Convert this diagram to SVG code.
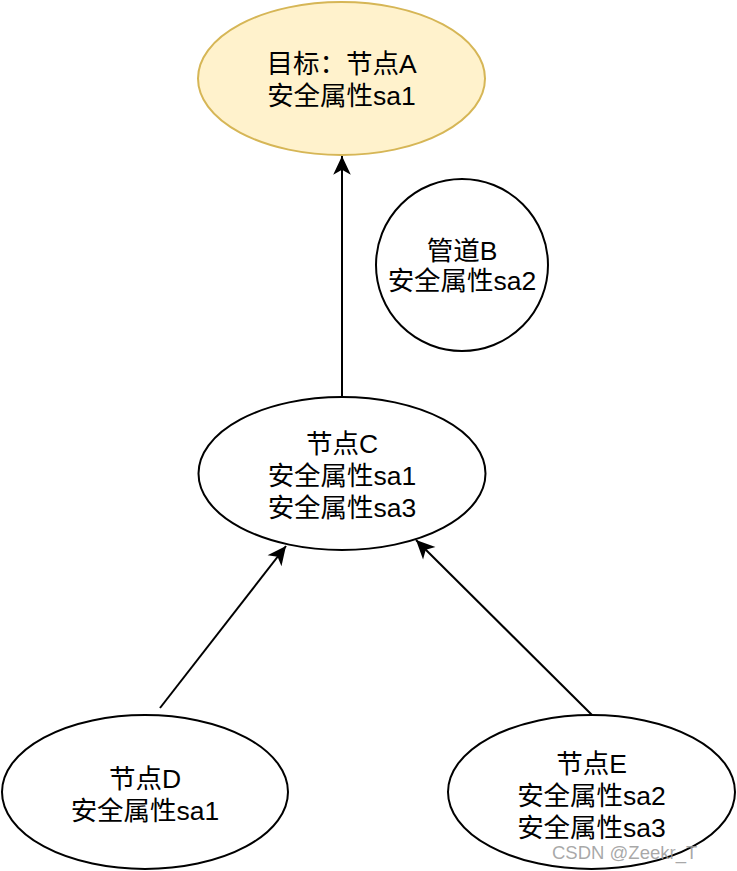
<svg xmlns="http://www.w3.org/2000/svg" width="737" height="871" viewBox="0 0 737 871">
<style>
.n{fill:#ffffff;stroke:#000000;stroke-width:2}
.t{font-family:"Liberation Sans","Noto Sans CJK SC",sans-serif;font-size:26.5px;fill:#000;text-anchor:middle}
.e{fill:none;stroke:#000;stroke-width:2}
</style>
<defs>
<marker id="ah" markerUnits="userSpaceOnUse" markerWidth="22" markerHeight="22" viewBox="-18 -9 20 18" refX="0" refY="0" orient="auto">
<path d="M0,0 L-17,-8 L-12.5,0 L-17,8 Z" fill="#000"/>
</marker>
</defs>
<rect width="737" height="871" fill="#fff"/>
<g id="connectors">
<line class="e" x1="342" y1="397" x2="342" y2="156" marker-end="url(#ah)"/>
<line class="e" x1="160" y1="708" x2="286" y2="546" marker-end="url(#ah)"/>
<line class="e" x1="592" y1="715" x2="416" y2="540" marker-end="url(#ah)"/>
</g>
<g id="nodeA">
<ellipse cx="341.5" cy="78.5" rx="143.5" ry="76.5" fill="#fff2cc" stroke="#d6b656" stroke-width="2"/>
<text class="t" x="341.5" y="73">目标：节点A</text>
<text class="t" x="341.5" y="105">安全属性sa1</text>
</g>
<g id="nodeB">
<circle class="n" cx="462" cy="265" r="86"/>
<text class="t" x="462" y="260">管道B</text>
<text class="t" x="462" y="290">安全属性sa2</text>
</g>
<g id="nodeC">
<ellipse class="n" cx="342" cy="473.5" rx="143.5" ry="76.5"/>
<text class="t" x="342" y="453">节点C</text>
<text class="t" x="342" y="485">安全属性sa1</text>
<text class="t" x="342" y="517">安全属性sa3</text>
</g>
<g id="nodeD">
<ellipse class="n" cx="145" cy="792" rx="143" ry="77"/>
<text class="t" x="145" y="788">节点D</text>
<text class="t" x="145" y="820">安全属性sa1</text>
</g>
<g id="nodeE">
<ellipse class="n" cx="591.5" cy="792" rx="143.5" ry="77"/>
<text class="t" x="591.5" y="773">节点E</text>
<text class="t" x="591.5" y="805">安全属性sa2</text>
<text class="t" x="591.5" y="837">安全属性sa3</text>
</g>
<text x="552" y="859" font-family="Liberation Sans, sans-serif" font-size="18.5" fill="#999999" fill-opacity="0.85">CSDN @Zeekr_T</text>
</svg>
